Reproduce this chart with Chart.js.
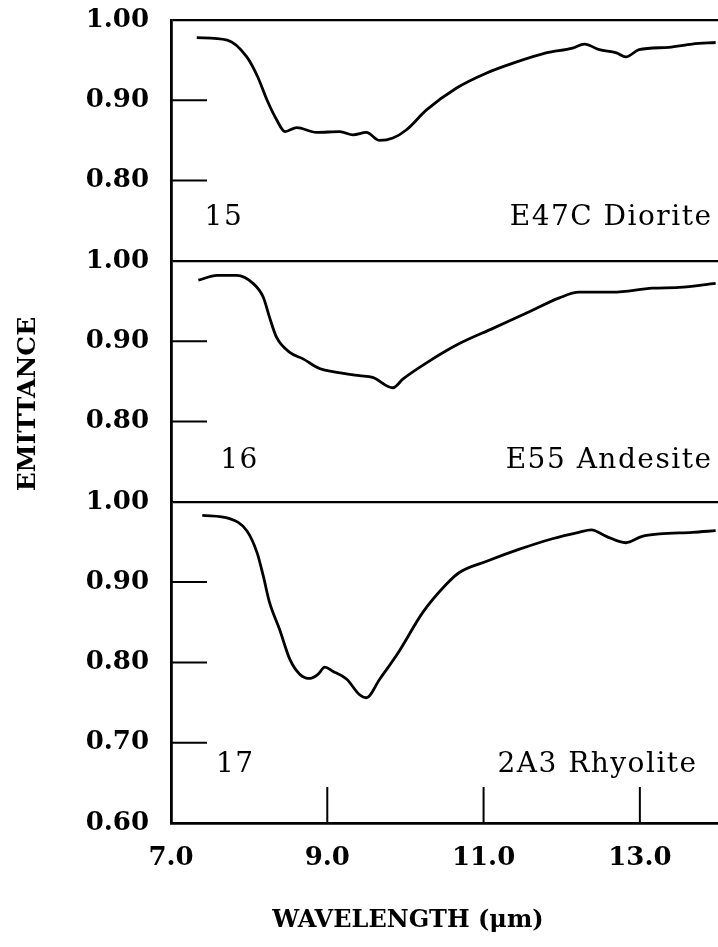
<!DOCTYPE html>
<html>
<head>
<meta charset="utf-8">
<script src="https://cdn.jsdelivr.net/npm/chart.js@4.4.1/dist/chart.umd.min.js"></script>
<style>
  html, body { margin: 0; padding: 0; background: #fff; }
  #wrap { width: 718px; height: 947px; }
</style>
</head>
<body>
<div id="wrap"><canvas id="emitChart" width="718" height="947"></canvas></div>
<script>
// spectra: wavelength (um) and emittance
const dioriteWl = [7.33, 7.72, 7.97, 8.11, 8.23, 8.35, 8.46, 8.61, 8.86, 9.16, 9.33, 9.50, 9.67, 9.84, 10.01, 10.27, 10.65, 11.04, 11.37, 11.80, 12.14, 12.29, 12.48, 12.70, 12.82, 12.99, 13.37, 13.67, 13.97];
const dioriteEm = [0.978, 0.975, 0.954, 0.929, 0.900, 0.876, 0.861, 0.866, 0.860, 0.861, 0.857, 0.860, 0.850, 0.853, 0.863, 0.888, 0.915, 0.934, 0.946, 0.959, 0.965, 0.970, 0.963, 0.959, 0.954, 0.963, 0.966, 0.970, 0.972];

const andesiteWl = [7.35, 7.59, 7.84, 8.05, 8.18, 8.26, 8.35, 8.52, 8.69, 8.90, 9.07, 9.41, 9.58, 9.84, 9.97, 10.27, 10.69, 11.12, 11.55, 11.97, 12.22, 12.65, 13.16, 13.50, 13.97];
const andesiteEm = [0.976, 0.982, 0.982, 0.972, 0.955, 0.930, 0.905, 0.886, 0.878, 0.866, 0.862, 0.857, 0.855, 0.842, 0.853, 0.873, 0.897, 0.916, 0.935, 0.954, 0.961, 0.961, 0.966, 0.967, 0.972];

const rhyoliteWl = [7.40, 7.75, 7.97, 8.10, 8.18, 8.26, 8.39, 8.52, 8.65, 8.78, 8.88, 8.97, 9.07, 9.25, 9.41, 9.50, 9.67, 9.92, 10.22, 10.52, 10.69, 11.04, 11.46, 11.88, 12.22, 12.38, 12.57, 12.82, 13.03, 13.25, 13.67, 13.97];
const rhyoliteEm = [0.983, 0.979, 0.964, 0.937, 0.908, 0.875, 0.841, 0.804, 0.785, 0.780, 0.785, 0.794, 0.789, 0.779, 0.760, 0.756, 0.779, 0.814, 0.862, 0.897, 0.912, 0.926, 0.941, 0.954, 0.962, 0.965, 0.957, 0.949, 0.957, 0.960, 0.962, 0.964];

const xTicks = [7, 9, 11, 13];
const upperTicks = [0.7, 0.8, 0.9, 1.0];
const lowerTicks = [0.6, 0.7, 0.8, 0.9, 1.0];

const panelNames = ["E47C Diorite", "E55 Andesite", "2A3 Rhyolite"];
const panelNumbers = ["15", "16", "17"];

const tickFont = { family: "DejaVu Serif", size: 26, weight: "bold" };

function toPoints(wl, em) {
    return wl.map((w, i) => ({ x: w, y: em[i] }));
}

function yScale(min, weight, ticks) {
    return {
        type: "linear",
        position: "left",
        stack: "panels",
        stackWeight: weight,
        min: min,
        max: 1.0,
        afterBuildTicks: s => { s.ticks = ticks.map(v => ({ value: v })); },
        afterFit: s => {
            s.width = 171;
            // keep the label padding from pushing the plot down
            s.paddingTop = 0;
            s.paddingBottom = 0;
        },
        ticks: {
            font: tickFont,
            color: "#000",
            padding: 22,
            // the bottom value of the upper panels is not labelled
            callback: v => (min > 0.65 && Math.abs(v - min) < 1e-6) ? "" : Number(v).toFixed(2)
        },
        grid: {
            drawTicks: false,
            color: "#000",
            lineWidth: ctx => (ctx.tick && Math.abs(ctx.tick.value - 1) < 1e-6) ? 2.2 : 0
        },
        border: { display: true, color: "#000", width: 2.8 }
    };
}

// inward tick marks, panel labels and axis titles
const figureDecor = {
    id: "figureDecor",
    afterDraw(chart) {
        const { ctx, chartArea } = chart;
        const xs = chart.scales.x;
        ctx.save();
        ctx.strokeStyle = "#000";
        ctx.lineWidth = 2;
        ["y1", "y2", "y3"].forEach(id => {
            const s = chart.scales[id];
            s.ticks.forEach(t => {
                if (t.value > 0.999 || Math.abs(t.value - s.min) < 1e-6) return;
                const y = s.getPixelForValue(t.value);
                ctx.beginPath();
                ctx.moveTo(chartArea.left, y);
                ctx.lineTo(chartArea.left + 36, y);
                ctx.stroke();
            });
        });
        xTicks.slice(1).forEach(v => {
            const x = xs.getPixelForValue(v);
            ctx.beginPath();
            ctx.moveTo(x, chartArea.bottom);
            ctx.lineTo(x, chartArea.bottom - 36);
            ctx.stroke();
        });

        ctx.fillStyle = "#000";
        ctx.textBaseline = "middle";
        ctx.font = "28px 'DejaVu Serif'";
        ctx.letterSpacing = "1.5px";
        const spots = [
            { id: "y1", numX: 7.43, nameX: 13.93, y: 0.754 },
            { id: "y2", numX: 7.63, nameX: 13.93, y: 0.751 },
            { id: "y3", numX: 7.575, nameX: 13.74, y: 0.673 }
        ];
        spots.forEach((p, i) => {
            const y = chart.scales[p.id].getPixelForValue(p.y);
            ctx.textAlign = "left";
            ctx.fillText(panelNumbers[i], xs.getPixelForValue(p.numX), y);
            ctx.textAlign = "right";
            ctx.fillText(panelNames[i], xs.getPixelForValue(p.nameX), y);
        });

        ctx.letterSpacing = "0px";
        ctx.font = "bold 24px 'DejaVu Serif'";
        ctx.textAlign = "center";
        ctx.fillText("WAVELENGTH (\u03bcm)", 408, 921);
        ctx.font = "bold 25px 'DejaVu Serif'";
        ctx.translate(28, 404);
        ctx.rotate(-Math.PI / 2);
        ctx.fillText("EMITTANCE", 0, 0);
        ctx.restore();
    }
};

const lineStyle = {
    borderColor: "#000",
    borderWidth: 2.8,
    pointRadius: 0,
    fill: false,
    cubicInterpolationMode: "monotone",
    xAxisID: "x"
};

new Chart(document.getElementById("emitChart"), {
    type: "line",
    data: {
        datasets: [
            { ...lineStyle, label: panelNames[0], data: toPoints(dioriteWl, dioriteEm), yAxisID: "y1" },
            { ...lineStyle, label: panelNames[1], data: toPoints(andesiteWl, andesiteEm), yAxisID: "y2" },
            { ...lineStyle, label: panelNames[2], data: toPoints(rhyoliteWl, rhyoliteEm), yAxisID: "y3" }
        ]
    },
    options: {
        responsive: false,
        animation: false,
        layout: { padding: { top: 20, right: 0, bottom: 0, left: 0 } },
        plugins: { legend: { display: false }, tooltip: { enabled: false } },
        scales: {
            x: {
                type: "linear",
                min: 7,
                max: 14,
                afterBuildTicks: s => { s.ticks = xTicks.map(v => ({ value: v })); },
                afterFit: s => { s.height = 124; },
                ticks: {
                    font: tickFont,
                    color: "#000",
                    padding: 20,
                    maxRotation: 0,
                    autoSkip: false,
                    callback: v => Number(v).toFixed(1)
                },
                grid: { display: false, drawTicks: false },
                border: { display: true, color: "#000", width: 2.8 }
            },
            // last defined axis sits at the top of the stack
            y3: yScale(0.6, 4, lowerTicks),
            y2: yScale(0.7, 3, upperTicks),
            y1: yScale(0.7, 3, upperTicks)
        }
    },
    plugins: [figureDecor]
});
</script>
</body>
</html>
